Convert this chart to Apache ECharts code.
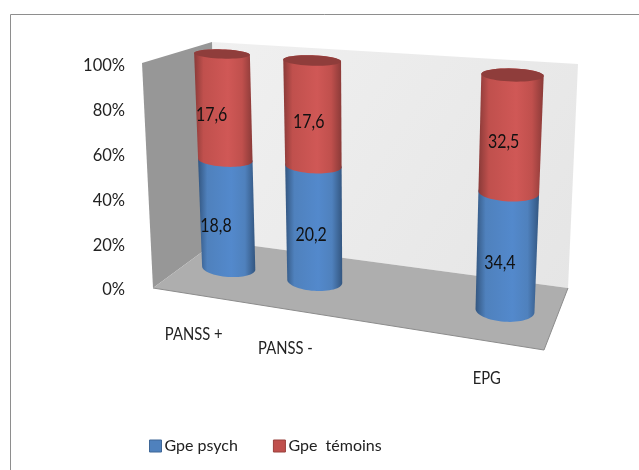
<!DOCTYPE html>
<html>
<head>
<meta charset="utf-8">
<style>
  html, body { margin: 0; padding: 0; background: #fff; }
  #chart { width: 639px; height: 470px; }
</style>
<script src="https://cdn.jsdelivr.net/npm/echarts@6/dist/echarts.min.js"></script>
</head>
<body>
<div id="chart"></div>
<script>
// Stacked 100 % cylinders in a perspective box.
const categories = ['PANSS +', 'PANSS -', '', 'EPG'];
const gpePsych = [18.8, 20.2, null, 34.4];
const gpeTemoins = [17.6, 17.6, null, 32.5];
const yTicks = [0, 20, 40, 60, 80, 100];
const seriesNames = ['Gpe psych', 'Gpe  témoins'];

const FONT = 'Lato';
const TEXT = '#222222';
const BLUE = { base: '#4F81BD', mid: '#5389CC', edge: '#335680', border: '#3F6797' };
const RED = { base: '#C0504D', mid: '#D05856', edge: '#8A3A38', top: '#8F3D3B', border: '#99403D' };

// Solves the 8-parameter perspective mapping from four point pairs.
function solveHomography(src, dst) {
  const A = [];
  for (let i = 0; i < 4; i++) {
    const [x, y] = src[i], [X, Y] = dst[i];
    A.push([x, y, 1, 0, 0, 0, -x * X, -y * X, X]);
    A.push([0, 0, 0, x, y, 1, -x * Y, -y * Y, Y]);
  }
  for (let c = 0; c < 8; c++) {
    let p = c;
    for (let r = c + 1; r < 8; r++) if (Math.abs(A[r][c]) > Math.abs(A[p][c])) p = r;
    [A[c], A[p]] = [A[p], A[c]];
    for (let r = 0; r < 8; r++) {
      if (r === c) continue;
      const f = A[r][c] / A[c][c];
      for (let k = c; k < 9; k++) A[r][k] -= f * A[c][k];
    }
  }
  const h = A.map((row, i) => row[8] / row[i]);
  return ([x, y]) => {
    const w = h[6] * x + h[7] * y + 1;
    return [(h[0] * x + h[1] * y + h[2]) / w, (h[3] * x + h[4] * y + h[5]) / w];
  };
}

// Where the plane through the cylinder axes lands on screen.
const AXIS_PLANE = {
  bottomLeft: [228.7, 268], topLeft: [222, 54],
  bottomRight: [505, 310.5], topRight: [512.5, 75]
};
// Front edge of the floor, used to seat the category labels.
const FRONT_EDGE = { left: [153, 288], right: [544, 350] };

let toScreen = null;
function projector(api) {
  if (toScreen) return toScreen;
  const a = api.coord([0, 0]), b = api.coord([3, 0]), c = api.coord([3, 100]), d = api.coord([0, 100]);
  toScreen = solveHomography([a, b, c, d],
    [AXIS_PLANE.bottomLeft, AXIS_PLANE.bottomRight, AXIS_PLANE.topRight, AXIS_PLANE.topLeft]);
  return toScreen;
}

// Ellipse of a cylinder slice at category index u and height v.
function slice(api, u, v) {
  const project = projector(api);
  const band = api.size([1, 0])[0];
  const p = api.coord([u, v]);
  const half = (0.32 - 0.01 * u) * band;
  const l = project([p[0] - half, p[1]]);
  const r = project([p[0] + half, p[1]]);
  const c = project(p);
  const rx = (r[0] - l[0]) / 2;
  const tilt = Math.atan2(r[1] - l[1], r[0] - l[0]) * 0.45;
  const ry = rx * (0.165 + 0.0017 * (100 - v) + 0.015 * u);
  return { c, rx, ry, tilt };
}

function ellipsePoints(s, from, to, n) {
  const pts = [];
  const cos = Math.cos(s.tilt), sin = Math.sin(s.tilt);
  for (let i = 0; i <= n; i++) {
    const t = from + (to - from) * i / n;
    const ex = s.rx * Math.cos(t), ey = s.ry * Math.sin(t);
    pts.push([s.c[0] + ex * cos - ey * sin, s.c[1] + ex * sin + ey * cos]);
  }
  return pts;
}

function sideGradient(pal) {
  return new echarts.graphic.LinearGradient(0, 0, 1, 0, [
    { offset: 0, color: pal.edge },
    { offset: 0.16, color: pal.base },
    { offset: 0.58, color: pal.mid },
    { offset: 0.82, color: pal.base },
    { offset: 1, color: pal.edge }
  ]);
}

function pct(i) {
  const total = gpePsych[i] + gpeTemoins[i];
  return gpePsych[i] / total * 100;
}

// Condensed text: the label face is squeezed horizontally around its anchor.
function condensedText(x, y, text, size, squeeze, fill) {
  return {
    type: 'text',
    z2: 10,
    x, y,
    scaleX: squeeze,
    style: { x: 0, y: 0, text, fill, font: size + 'px ' + FONT, align: 'center', verticalAlign: 'middle' }
  };
}

// Offset of the value labels, per cylinder: [upper dx, upper dy, lower dx, lower dy].
const VALUE_NUDGE = { 0: [-15, 0, -14, 1], 1: [-7, 0, -6, 0], 3: [-10, -2, -10, -1] };

function segmentItem(api, pal, lowFn, highFn, value, isTop) {
  const u = api.value(0);
  const low = slice(api, u, lowFn(u));
  const high = slice(api, u, highFn(u));
  const children = [];
  const frontLow = ellipsePoints(low, Math.PI, 0, 32);
  const backHigh = ellipsePoints(high, 0, -Math.PI, 32);
  children.push({
    type: 'polygon',
    shape: { points: frontLow.concat(backHigh) },
    style: { fill: sideGradient(pal) }
  });
  if (isTop) {
    children.push({
      type: 'polygon',
      shape: { points: ellipsePoints(high, 0, Math.PI * 2, 48) },
      style: { fill: pal.top }
    });
  }
  const n = VALUE_NUDGE[u];
  const mid = slice(api, u, (lowFn(u) + highFn(u)) / 2);
  children.push(condensedText(
    mid.c[0] + (isTop ? n[0] : n[2]) + 3,
    mid.c[1] + mid.ry + 2 + (isTop ? n[1] : n[3]),
    String(value).replace('.', ','),
    19, 0.84, '#111111'
  ));
  return { type: 'group', children };
}

// Box walls and floor are drawn behind the cylinders.
function boxItem() {
  const backWall = [[212, 42], [578, 64], [568, 288], [217, 241]];
  const sideWall = [[142, 63], [212, 42], [217, 241], [153, 288]];
  const floor = [[153, 288], [217, 241], [568, 288], [544, 350]];
  return {
    type: 'group',
    children: [
      { type: 'polygon', shape: { points: backWall }, style: {
        fill: new echarts.graphic.LinearGradient(0, 0, 1, 1, [
          { offset: 0, color: '#F0F0F0' }, { offset: 1, color: '#E5E5E5' }
        ]) } },
      { type: 'polygon', shape: { points: sideWall }, style: { fill: '#979797' } },
      { type: 'polygon', shape: { points: floor }, style: { fill: '#AEAEAE' } },
      { type: 'polyline', shape: { points: [[153, 288], [544, 350], [568, 288]] },
        style: { fill: null, stroke: '#8C8C8C', lineWidth: 1 } }
    ]
  };
}

function categoryLabelItem(api) {
  const u = api.value(0);
  const project = projector(api);
  const p = api.coord([u, 0]);
  const xOnPlane = project(p)[0];
  const labelX = xOnPlane - (35 - u * 5.6);
  const t = (xOnPlane - FRONT_EDGE.left[0]) / (FRONT_EDGE.right[0] - FRONT_EDGE.left[0]);
  const y = FRONT_EDGE.left[1] + t * (FRONT_EDGE.right[1] - FRONT_EDGE.left[1]) + 34.5;
  return condensedText(labelX, y, categories[u], 18, 0.82, TEXT);
}

const present = categories.map((c, i) => i).filter(i => gpePsych[i] != null);

const option = {
  animation: false,
  backgroundColor: '#ffffff',
  graphic: [{
    type: 'polyline',
    shape: { points: [[10.5, 470], [10.5, 14.5], [639, 14.5]] },
    style: { fill: null, stroke: '#8E8E8E', lineWidth: 1 },
    z: -10
  }],
  grid: { left: 152, right: 70, top: 66, bottom: 180 },
  xAxis: {
    type: 'category',
    data: categories,
    boundaryGap: false,
    show: false
  },
  yAxis: {
    type: 'value',
    min: yTicks[0],
    max: yTicks[yTicks.length - 1],
    interval: yTicks[1] - yTicks[0],
    axisLine: { show: false },
    axisTick: { show: false },
    splitLine: { show: false },
    axisLabel: {
      formatter: '{value}%',
      margin: 27,
      color: TEXT,
      fontFamily: FONT,
      fontSize: 16.5,
      padding: [4, 0, 0, 0]
    }
  },
  legend: {
    left: 149,
    top: 438,
    padding: 0,
    itemWidth: 12,
    itemHeight: 12,
    itemGap: 35,
    icon: 'rect',
    textStyle: { color: TEXT, fontFamily: FONT, fontSize: 16, padding: [0, 0, 0, -2] },
    data: seriesNames.map((name, i) => ({
      name,
      itemStyle: { color: i ? RED.base : BLUE.base, borderColor: i ? RED.border : BLUE.border, borderWidth: 1 }
    }))
  },
  series: [
    {
      type: 'custom', name: 'box', silent: true, z: 1,
      data: [[0, 0]],
      renderItem: boxItem
    },
    {
      type: 'custom', name: seriesNames[0], z: 2,
      itemStyle: { color: BLUE.base },
      data: present.map(i => [i, gpePsych[i]]),
      renderItem: (params, api) => segmentItem(api, BLUE, () => 0, pct, api.value(1), false)
    },
    {
      type: 'custom', name: seriesNames[1], z: 3,
      itemStyle: { color: RED.base },
      data: present.map(i => [i, gpeTemoins[i]]),
      renderItem: (params, api) => segmentItem(api, RED, pct, () => 100, api.value(1), true)
    },
    {
      type: 'custom', name: 'categoryLabels', silent: true, z: 4,
      data: present.map(i => [i, 0]),
      renderItem: (params, api) => categoryLabelItem(api)
    }
  ]
};

const chart = echarts.init(document.getElementById('chart'), null, { renderer: 'canvas' });
chart.setOption(option);
</script>
</body>
</html>
